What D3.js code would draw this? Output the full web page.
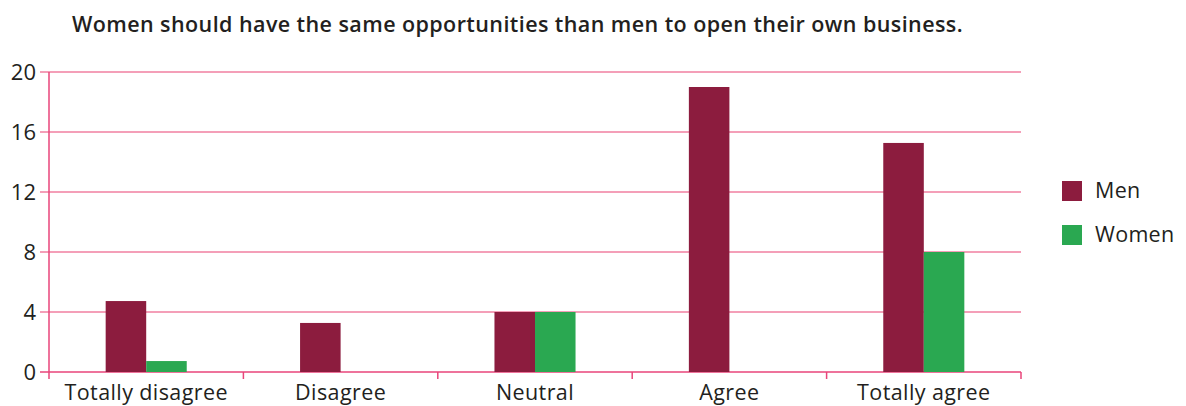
<!DOCTYPE html>
<html>
<head>
<meta charset="utf-8">
<script src="https://cdn.jsdelivr.net/npm/d3@7"></script>
<style>
body { margin: 0; background: #fff; }
text { font-family: "Open Sans", sans-serif; fill: #231f20; }
</style>
</head>
<body>
<svg id="chart" width="1186" height="406"></svg>
<script>
var categories = ["Totally disagree", "Disagree", "Neutral", "Agree", "Totally agree"];
var series = ["Men", "Women"];
var men = [4.73, 3.27, 4, 19, 15.27];
var women = [0.73, 0, 4, 0, 8];
var yTicks = [0, 4, 8, 12, 16, 20];
var colors = ["#8c1c3e", "#2aa851"];

var svg = d3.select("#chart");
var plotLeft = 49, plotRight = 1021, plotTop = 72, plotBottom = 372;

var x = d3.scaleBand().domain(categories).range([plotLeft, plotRight]);
var xs = d3.scaleBand().domain(series).range([0, x.bandwidth() * 0.417]);
var y = d3.scaleLinear().domain([0, 20]).range([plotBottom, plotTop]);

// title
svg.append("text")
    .attr("x", 72).attr("y", 32)
    .attr("font-size", 21.5).attr("font-weight", 600)
    .attr("letter-spacing", 0.42)
    .text("Women should have the same opportunities than men to open their own business.");

// gridlines
svg.selectAll(".grid")
    .data(yTicks)
    .enter().append("line")
    .attr("x1", 40).attr("x2", plotRight)
    .attr("y1", function(d) { return y(d); })
    .attr("y2", function(d) { return y(d); })
    .attr("stroke", function(d) { return d == 0 ? "#e8457a" : "#f07fa0"; })
    .attr("stroke-width", 1.5);

// y labels
svg.selectAll(".ylab")
    .data(yTicks)
    .enter().append("text")
    .attr("x", 36)
    .attr("y", function(d) { return y(d) + 8; })
    .attr("text-anchor", "end")
    .attr("font-size", 22)
    .text(function(d) { return d; });

// bars
var rows = categories.map(function(c, i) { return {cat: c, vals: [men[i], women[i]]}; });
var groups = svg.selectAll(".grp")
    .data(rows)
    .enter().append("g")
    .attr("transform", function(d) {
        return "translate(" + (x(d.cat) + (x.bandwidth() - xs.range()[1]) / 2) + ",0)";
    });
groups.selectAll("rect")
    .data(function(d) { return d.vals.map(function(v, j) { return {s: series[j], v: v, j: j}; }); })
    .enter().append("rect")
    .attr("x", function(d) { return xs(d.s); })
    .attr("width", xs.bandwidth())
    .attr("y", function(d) { return y(d.v); })
    .attr("height", function(d) { return plotBottom - y(d.v); })
    .attr("fill", function(d) { return colors[d.j]; });

// axis lines
svg.append("line")
    .attr("x1", plotLeft).attr("x2", plotLeft).attr("y1", plotTop).attr("y2", plotBottom + 7)
    .attr("stroke", "#e8457a").attr("stroke-width", 1.5);

var bounds = categories.map(function(c) { return x(c); }).concat([plotRight]);
svg.selectAll(".xtick")
    .data(bounds.slice(1))
    .enter().append("line")
    .attr("x1", function(d) { return d; }).attr("x2", function(d) { return d; })
    .attr("y1", plotBottom).attr("y2", plotBottom + 7)
    .attr("stroke", "#e8457a").attr("stroke-width", 1.5);

// x labels
svg.selectAll(".xlab")
    .data(categories)
    .enter().append("text")
    .attr("x", function(d) { return x(d) + x.bandwidth() / 2; })
    .attr("y", 400)
    .attr("text-anchor", "middle")
    .attr("font-size", 21.5)
    .attr("letter-spacing", 0.4)
    .text(function(d) { return d; });

// legend
var legend = svg.selectAll(".leg")
    .data(series)
    .enter().append("g")
    .attr("transform", function(d, i) { return "translate(1062," + (181 + i * 44) + ")"; });
legend.append("rect")
    .attr("width", 20).attr("height", 20)
    .attr("fill", function(d, i) { return colors[i]; });
legend.append("text")
    .attr("x", 33).attr("y", 17)
    .attr("font-size", 21.5)
    .attr("letter-spacing", 0.3)
    .text(function(d) { return d; });
</script>
</body>
</html>
